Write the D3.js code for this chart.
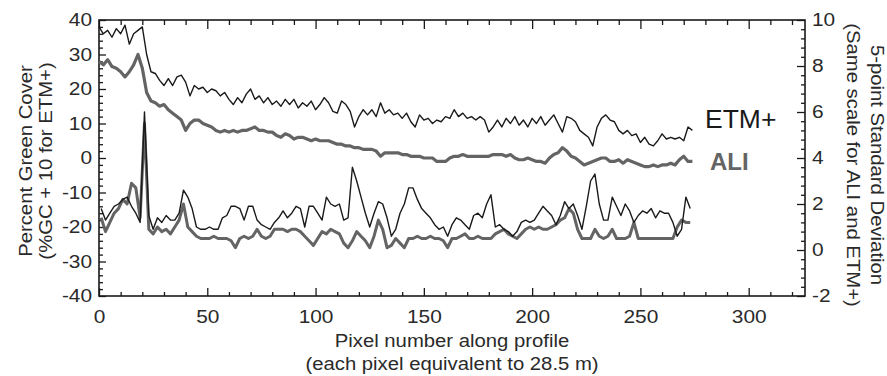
<!DOCTYPE html>
<html><head><meta charset="utf-8">
<script src="https://cdn.jsdelivr.net/npm/d3@7"></script>
<style>
body{margin:0;background:#fff;}
svg{display:block;font-family:"Liberation Sans",Arial,Helvetica,sans-serif;}
</style></head>
<body><svg id="c" width="887" height="376"></svg>
<script>
// ---- data (pixel index along profile) ----
const upperStep = 2, upperStart = 0;   // upper profiles sampled every 2 pixels from 0
const sdStep = 2, sdStart = 1;         // SD profiles sampled every 2 pixels from 1
const etmGC = [38,36,37,35,37.5,36,38.5,33,36,37,38,30,25,24.5,22.5,21,23,21,23.5,24,22,18,21,20,20.5,19,20,19.5,18,19,17,15.5,17.5,16,18.5,20,17,18,16,17.5,15.5,16.5,15,17,15.5,17,14.5,16,15,16.5,14,15.5,17.5,16,13.5,13,16.5,15.5,13.5,9,12,14,12.5,14,12,16,13,14,12.5,13,11.5,13,10.5,9,12.5,11,11.5,10,11,10.5,12,11.5,14,12,13,11.5,12,11,12,11,7.5,9,11,9,11.5,10,12,9.5,11,9,11.5,10,12,9.5,11,12.5,10,7.5,12,11.5,10.5,8,7,6,3.5,9,11.5,12.5,11,10.5,8,7,8,6.5,7,4.5,6,4,3.5,5,7,5.5,6,5.5,6,5,9,8];
const aliGC = [28,27,28.5,26.5,26,25,23.5,25,27,30,26,19,16.5,16,15,15.5,14,13,12,11,8,10,11,11,10,9.5,9,8,7.5,8,7.5,8,7.5,8,8,8.5,9,8,8,7.5,7.5,6.5,6,7,6.5,5.5,6,6,5.5,5,5.5,5,5,5,4.5,4,4,3.5,3.5,3,3,2.5,2.5,2.5,2,0.5,1.5,1.5,1.5,1.5,1,1,0.5,0.5,0.5,0,0,0,-1,-1,-1,0,0.5,0.5,1,0.5,0.5,0.5,0.5,0.5,0.5,1,1,1,0.5,1,0,-0.5,-0.5,0,-0.5,-1,-1,-1.5,0,1,1.5,3,2,0.5,0,-1,-2,-1.5,-1,-0.5,0,0,-1,-1,-0.5,-1.5,-0.5,-1,-1.5,-2,-2.5,-2.5,-2,-2.5,-2,-2,-1.5,-2,-0.5,0.5,-1,-1];
const etmSD = [1.8,1.3,1.6,1.9,2.0,2.2,2.3,1.9,1.6,1.2,6.0,1.5,0.9,1.4,1.2,1.5,1.3,1.3,1.6,2.6,2.3,1.8,1.0,0.9,0.9,1.0,0.9,0.9,1.4,1.5,1.9,1.9,1.8,1.3,1.9,1.9,1.3,1.1,1.0,0.9,1.2,1.4,1.7,1.4,1.6,1.9,1.8,1.0,1.9,1.9,1.6,1.3,2.3,2.0,1.9,2.0,1.3,1.4,3.6,3.0,2.3,1.6,1.0,1.6,2.1,2.0,1.4,0.6,0.9,1.6,2.0,2.7,2.7,2.2,1.8,1.6,1.4,1.1,0.9,1.0,0.6,1.1,1.4,1.3,1.1,0.9,1.5,1.6,1.4,2.0,2.4,1.0,1.1,0.9,0.8,0.6,0.8,1.2,1.3,1.2,1.3,1.6,1.9,1.7,1.5,1.1,1.5,2.1,1.8,2.0,1.5,0.9,1.9,3.0,3.3,2.0,1.3,1.3,2.3,1.9,1.5,2.0,1.7,1.2,1.5,1.7,1.6,1.8,1.4,1.7,1.6,1.6,1.2,0.6,0.9,2.3,1.8];
const aliSD = [1.4,0.8,1.2,1.6,1.8,2.2,2.0,2.9,2.7,1.4,5.5,0.9,0.7,1.0,0.8,0.9,0.7,1.0,1.3,2.0,1.0,0.8,0.6,0.5,0.5,0.5,0.6,0.5,0.5,0.5,0.4,0.1,0.5,0.6,0.5,0.6,0.9,0.6,0.5,0.6,0.9,0.9,0.9,0.8,0.9,0.9,0.8,0.6,0.4,0.2,0.5,0.8,0.7,0.9,0.8,0.7,0.3,0.1,0.4,0.8,0.6,0.4,0.1,0.6,1.3,0.9,0.1,0.2,0.5,0.3,0.1,0.5,0.5,0.6,0.5,0.5,0.6,0.5,0.5,0.4,0.1,0.5,0.5,0.6,0.7,0.5,0.5,0.6,0.5,0.5,0.5,0.7,0.8,0.9,0.7,0.6,0.5,0.7,0.9,1.0,0.9,1.0,0.9,0.9,1.0,1.1,1.3,1.4,1.8,1.6,0.9,0.5,0.5,0.5,0.9,0.6,0.5,0.6,0.9,0.5,0.5,0.5,0.6,1.2,0.5,0.5,0.5,0.5,0.5,0.5,0.5,0.5,0.5,1.0,1.3,1.2,1.2];

const xDomain = [0, 326];
const leftDomain = [-40, 40], rightDomain = [-2, 10];
const xMajor = [0,50,100,150,200,250,300];
const leftMajor = [-40,-30,-20,-10,0,10,20,30,40];
const rightMajor = [-2,0,2,4,6,8,10];
const seriesNames = ["ETM+","ALI"];

// ---- layout ----
const svg = d3.select("#c");
const L = 99, R = 805, T = 20, B = 296;
const x = d3.scaleLinear().domain(xDomain).range([L, R]);
const yL = d3.scaleLinear().domain(leftDomain).range([B, T]);
const yR = d3.scaleLinear().domain(rightDomain).range([B, T]);
const ink = "#1a1a1a", gray = "#646464", txt = "#2a2a2a";
const stretch = 1.16;

const xMinor = d3.range(0, 326, 10).filter(v => v % 50 !== 0);
const leftMinor = d3.range(-40, 40.01, 2).filter(v => v % 10 !== 0);
const rightMinor = d3.range(-2, 10.01, 0.4).map(v => +v.toFixed(1)).filter(v => Math.abs(v/2 - Math.round(v/2)) > 1e-6);
const plain = d => String(d);

function styleAxis(g){
  g.select(".domain").remove();
  g.selectAll(".tick line").attr("stroke", ink).attr("stroke-width", 1.3);
  g.selectAll(".tick text").attr("fill", txt).style("font-size", "18px")
    .attr("transform", `scale(${stretch},1)`);
}
// bottom
svg.append("g").attr("transform",`translate(0,${B})`)
  .call(d3.axisBottom(x).tickValues(xMajor).tickSize(-8).tickPadding(14).tickFormat(plain))
  .call(styleAxis).call(g => g.selectAll(".tick text").attr("dy","0.71em"));
svg.append("g").attr("transform",`translate(0,${B})`)
  .call(d3.axisBottom(x).tickValues(xMinor).tickSize(-4).tickFormat(""))
  .call(styleAxis);
// top
svg.append("g").attr("transform",`translate(0,${T})`)
  .call(d3.axisTop(x).tickValues(xMajor).tickSize(-9).tickFormat(""))
  .call(styleAxis);
svg.append("g").attr("transform",`translate(0,${T})`)
  .call(d3.axisTop(x).tickValues(xMinor).tickSize(-5).tickFormat(""))
  .call(styleAxis);
// left
svg.append("g").attr("transform",`translate(${L},0)`)
  .call(d3.axisLeft(yL).tickValues(leftMajor).tickSize(-7).tickPadding(6).tickFormat(plain))
  .call(styleAxis);
svg.append("g").attr("transform",`translate(${L},0)`)
  .call(d3.axisLeft(yL).tickValues(leftMinor).tickSize(-4).tickFormat(""))
  .call(styleAxis);
// right
svg.append("g").attr("transform",`translate(${R},0)`)
  .call(d3.axisRight(yR).tickValues(rightMajor).tickSize(-8).tickPadding(6).tickFormat(plain))
  .call(styleAxis);
svg.append("g").attr("transform",`translate(${R},0)`)
  .call(d3.axisRight(yR).tickValues(rightMinor).tickSize(-4).tickFormat(""))
  .call(styleAxis);

// frame
svg.append("rect").attr("x",L).attr("y",T).attr("width",R-L).attr("height",B-T)
  .attr("fill","none").attr("stroke",ink).attr("stroke-width",1.6);

// lines
function draw(vals, start, step, yScale, color, w){
  const line = d3.line().x((d,i) => x(start + i*step)).y(d => yScale(d));
  svg.append("path").datum(vals).attr("d", line).attr("fill","none")
    .attr("stroke", color).attr("stroke-width", w).attr("stroke-linejoin","round");
}
draw(aliSD, sdStart, sdStep, yR, gray, 3);
draw(etmSD, sdStart, sdStep, yR, ink, 1.4);
draw(aliGC, upperStart, upperStep, yL, gray, 3.2);
draw(etmGC, upperStart, upperStep, yL, ink, 1.4);

// series labels
svg.append("text").attr("transform","translate(705,128) scale(1.06,1)").text(seriesNames[0])
  .attr("fill", ink).style("font-size","25px");
svg.append("text").attr("x", 710).attr("y", 170).text(seriesNames[1])
  .attr("fill", gray).style("font-size","24px").style("font-weight","bold");

// axis titles
function title(tx, ty, rot, s){
  svg.append("text").attr("transform",`translate(${tx},${ty}) rotate(${rot}) scale(${stretch},1)`)
    .attr("text-anchor","middle").attr("fill",txt).style("font-size","17.5px").text(s);
}
title(452, 347, 0, "Pixel number along profile");
title(452, 370, 0, "(each pixel equivalent to 28.5 m)");
title(32, 161, -90, "Percent Green Cover");
title(52, 161, -90, "(%GC + 10 for ETM+)");
title(871, 165, 90, "5-point Standard Deviation");
title(847, 165, 90, "(Same scale for ALI and ETM+)");
</script></body></html>
